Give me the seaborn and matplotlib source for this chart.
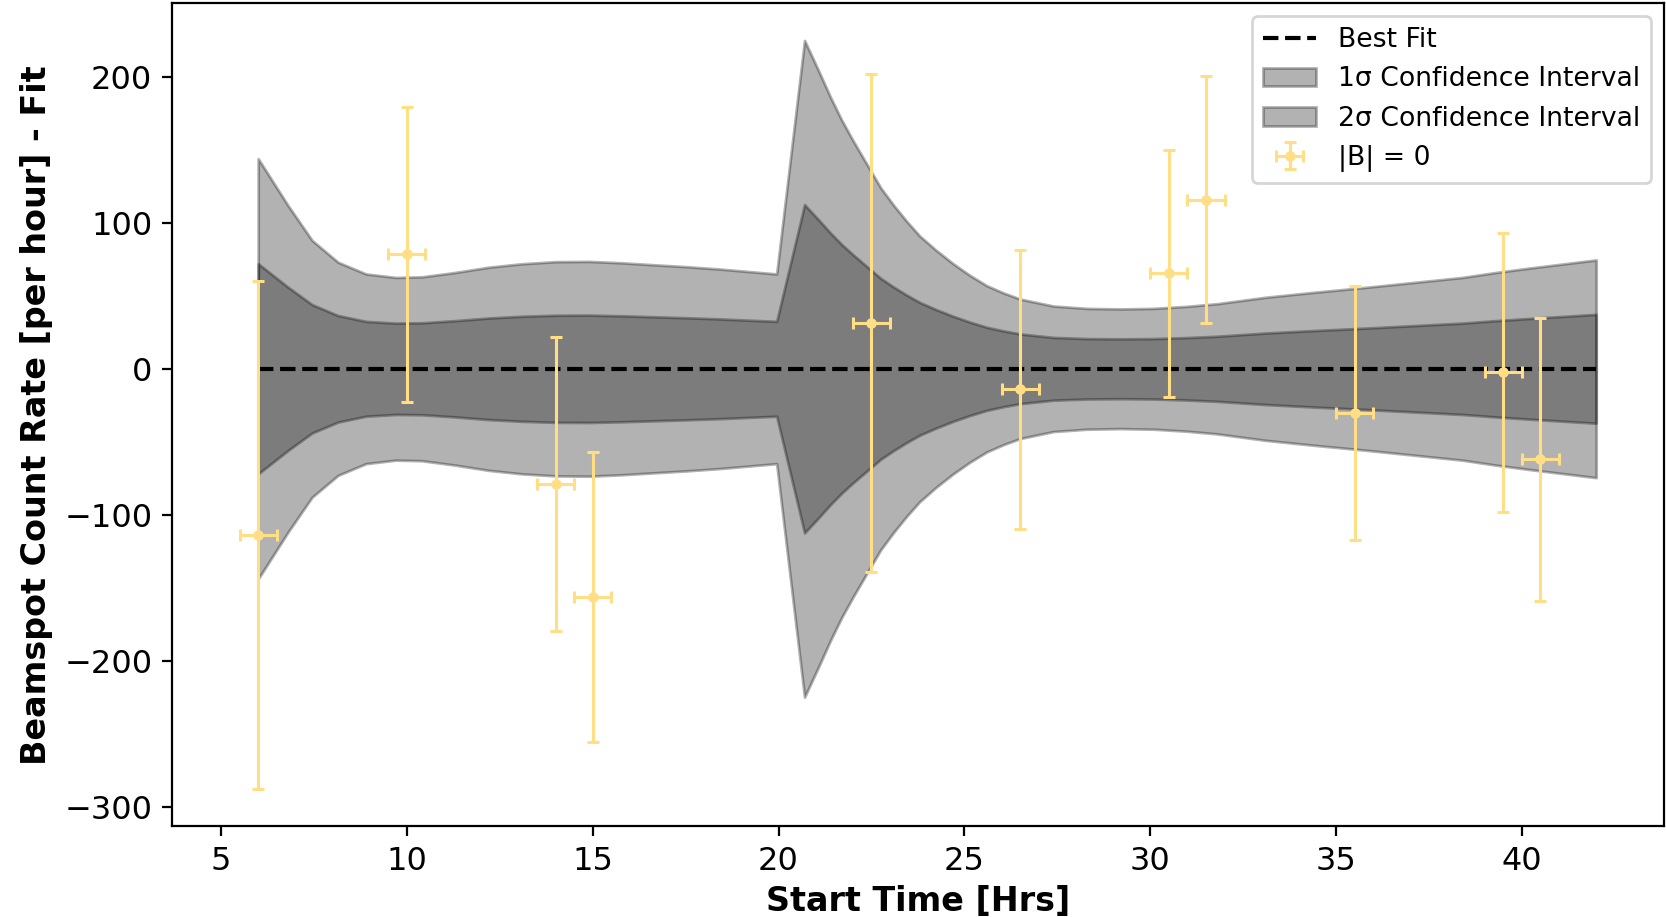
import matplotlib
matplotlib.use("Agg")
import matplotlib.pyplot as plt
import numpy as np
import pandas as pd
import seaborn as sns

# Measured residual count rates (|B| = 0 runs)
start_time = [6.0, 10.0, 14.0, 15.0, 22.5, 26.5, 30.5, 31.5, 35.5, 39.5, 40.5]
rate_resid = [-114.0, 78.5, -79.0, -156.5, 31.5, -14.0, 65.5, 116.0, -30.5, -2.5, -62.0]
rate_err = [174.0, 101.0, 100.5, 99.5, 170.5, 95.5, 84.5, 84.5, 87.0, 95.5, 97.0]
time_err = [0.5, 0.5, 0.5, 0.5, 0.5, 0.5, 0.5, 0.5, 0.5, 0.5, 0.5]

# Fit evaluation grid and its 1-sigma half width
fit_x = [6.0, 6.8, 7.45, 8.15, 8.9, 9.7, 10.4, 11.3, 12.2, 13.1, 14.0, 14.9,
         15.8, 16.7, 17.5, 18.4, 19.95, 20.7, 21.1, 21.4, 21.7, 22.0, 22.45,
         22.75, 23.1, 23.45, 23.8, 24.25, 24.7, 25.15, 25.6, 26.05, 26.5, 27.4,
         28.3, 29.2, 30.1, 31.0, 31.8, 33.1, 34.4, 35.8, 37.1, 38.4, 39.3,
         40.2, 42.0]
fit_sigma = [72.0, 56.0, 44.0, 36.5, 32.5, 31.3, 31.5, 33.0, 34.8, 36.0, 36.7,
             36.8, 36.3, 35.6, 35.0, 34.2, 32.5, 112.5, 101.5, 93.0, 85.2, 78.3,
             68.5, 62.0, 56.0, 50.5, 45.5, 40.5, 36.0, 32.0, 28.5, 26.0, 23.9,
             21.5, 20.7, 20.5, 20.7, 21.4, 22.3, 24.5, 26.2, 27.9, 29.6, 31.3,
             33.0, 34.5, 37.3]
fit_resid = [0.0] * len(fit_x)

sns.set_theme(style="ticks")
plt.rcParams.update({
    "font.family": ["DejaVu Sans"],
    "axes.edgecolor": "black",
    "axes.linewidth": 0.8,
    "xtick.color": "black",
    "ytick.color": "black",
    "xtick.labelcolor": "black",
    "ytick.labelcolor": "black",
    "xtick.major.size": 3.5,
    "ytick.major.size": 3.5,
    "xtick.major.width": 0.8,
    "ytick.major.width": 0.8,
    "text.color": "black",
    "axes.labelcolor": "black",
})

fig = plt.figure(figsize=(8.33, 4.585), dpi=200)
ax = fig.add_axes([0.1031, 0.0987, 0.8957, 0.898])

fx = np.array(fit_x)
fc = np.array(fit_resid)
fs = np.array(fit_sigma)

fit_df = pd.DataFrame({"t": fit_x, "r": fit_resid})
sns.lineplot(data=fit_df, x="t", y="r", ax=ax, color="black",
             linestyle="--", linewidth=1.5, label="Best Fit")

ax.fill_between(fx, fc - fs, fc + fs, color="black", alpha=0.3,
                linewidth=1, label="1σ Confidence Interval")
ax.fill_between(fx, fc - 2 * fs, fc + 2 * fs, color="black", alpha=0.3,
                linewidth=1, label="2σ Confidence Interval")

ax.errorbar(start_time, rate_resid, yerr=rate_err, xerr=time_err, fmt="o",
            color="#FFDE85", markersize=2.8, elinewidth=1.1, capsize=2.2,
            capthick=1.1, label="|B| = 0")

ax.set_xticks([5, 10, 15, 20, 25, 30, 35, 40])
ax.set_yticks([-300, -200, -100, 0, 100, 200])
ax.tick_params(axis="both", labelsize=11.5)
ax.set_xlabel("Start Time [Hrs]", fontsize=12, fontweight="bold", labelpad=3)
ax.set_ylabel("Beamspot Count Rate [per hour] - Fit", fontsize=12,
              fontweight="bold", labelpad=4)

ax.legend(loc="upper right", fontsize=9.6, frameon=True)

fig.savefig("out.png", dpi=200)
